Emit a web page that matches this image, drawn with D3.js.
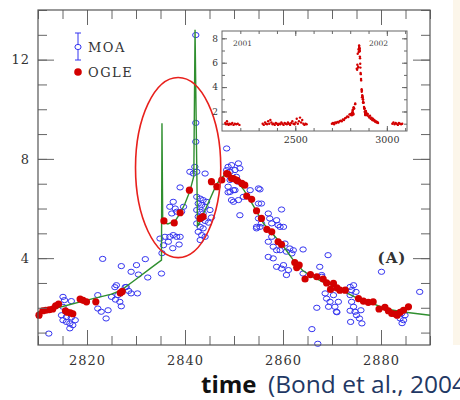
<!DOCTYPE html>
<html>
<head>
<meta charset="utf-8">
<script src="https://cdn.jsdelivr.net/npm/d3@7"></script>
<style>
  body { margin: 0; background: #fff; }
  svg { display: block; }
</style>
</head>
<body>
<div id="chart"></div>
<script>
// OGLE photometry: [day, magnification]
const ogle = [
  [2810.2,1.70],[2811.0,1.88],[2811.6,1.90],[2812.3,1.92],[2813.0,1.95],[2813.6,2.08],[2814.2,2.15],
  [2815.6,1.88],[2816.0,1.82],[2816.6,1.80],[2817.1,1.76],[2818.6,2.35],[2819.2,2.30],[2819.9,2.24],
  [2821.8,2.24],[2826.8,2.60],[2827.2,2.66],
  [2835.7,5.50],[2837.8,5.42],[2839.0,5.83],[2840.9,6.74],[2843.1,5.60],[2843.7,5.67],
  [2845.4,7.08],[2846.5,6.88],[2847.5,7.15],[2848.5,7.41],[2848.8,7.38],[2849.5,7.21],[2849.9,7.21],
  [2850.5,7.15],[2850.7,7.12],[2851.6,7.01],[2852.2,6.94],[2852.6,6.50],[2853.6,6.37],[2854.6,5.91],
  [2855.6,5.60],[2856.7,5.16],[2857.7,5.06],[2859.0,4.66],[2859.7,4.55],[2862.4,3.82],[2862.8,3.62],
  [2863.3,3.72],[2864.5,3.16],[2865.6,3.34],[2866.9,3.25],[2868.2,3.16],[2868.9,3.00],[2869.7,2.74],
  [2870.3,2.98],[2871.0,2.80],[2871.6,2.71],[2872.7,2.71],[2875.4,2.37],[2876.4,2.27],[2877.4,2.22],
  [2878.4,2.24],[2879.6,1.95],[2880.8,2.02],[2881.5,1.88],[2882.2,1.77],[2882.9,1.75],[2883.3,1.70],
  [2883.9,1.82],[2884.6,1.90],[2885.6,2.04]
];

// MOA photometry: [day, magnification]
const moa = [
  [2812.2,0.96],
  [2815.1,2.44],[2815.4,2.31],[2815.1,2.04],[2814.8,1.70],[2815.1,1.50],[2815.8,1.43],[2816.5,1.37],
  [2816.8,1.61],[2816.5,1.17],[2817.1,1.30],[2815.8,1.63],[2816.8,2.27],[2817.6,1.50],
  [2822.2,2.51],[2822.2,1.97],[2822.9,1.84],[2824.3,1.90],[2823.9,1.57],[2823.2,3.97],
  [2825.0,2.44],[2825.8,2.33],[2826.3,2.51],[2826.7,2.24],[2827.0,2.06],[2826.0,2.91],[2828.0,2.84],
  [2828.5,2.68],[2829.0,2.58],[2830.3,2.58],[2827.0,3.68],[2829.0,3.45],[2830.1,3.72],[2830.5,3.34],
  [2831.9,3.96],[2832.4,3.22],[2835.2,3.38],[2835.3,4.20],[2825.7,2.83],[2827.8,2.83],
  [2842.2,12.99],[2842.2,9.45],[2842.2,8.69],[2842.0,7.68],[2841.0,7.48],[2841.7,7.41],[2842.4,7.48],
  [2844.1,7.41],[2839.0,6.85],
  [2837.6,6.27],[2836.9,6.07],[2838.0,6.00],[2837.3,5.80],[2838.3,5.87],[2839.3,5.87],[2839.7,6.07],
  [2834.9,4.79],[2835.9,4.86],[2836.9,4.86],[2837.6,4.93],[2838.3,4.86],[2839.0,4.86],[2836.6,4.66],
  [2835.6,4.52],[2837.5,4.40],[2838.8,4.55],
  [2842.4,6.47],[2843.1,6.40],[2843.7,6.34],[2842.7,6.20],[2843.4,6.14],[2844.1,6.07],[2842.4,5.94],
  [2843.1,5.87],[2843.7,5.80],[2842.7,5.67],[2843.4,5.60],[2844.1,5.50],[2842.4,5.40],[2843.1,5.26],
  [2843.7,5.20],[2842.7,5.06],[2843.4,4.93],[2844.4,6.27],[2845.1,5.94],[2845.4,5.64],[2844.8,5.43],
  [2843.1,4.73],[2844.1,4.86],
  [2848.5,8.42],[2848.8,7.68],[2849.5,7.75],[2848.5,7.55],[2849.2,7.48],[2850.2,7.55],[2850.9,7.82],
  [2851.2,7.62],[2850.5,7.28],[2848.8,6.88],[2849.2,6.67],[2850.2,6.74],[2849.5,6.34],[2849.9,6.27],
  [2850.9,6.34],[2851.9,6.47],[2851.2,5.73],[2853.3,6.74],[2855.0,6.81],[2854.6,5.26],[2849.2,7.15],
  [2850.9,7.08],[2849.9,6.74],[2848.8,6.65],
  [2855.3,6.77],[2855.0,6.20],[2855.6,6.20],[2855.0,5.60],[2855.3,5.26],[2854.6,5.20],[2855.6,5.40],
  [2859.7,5.96],[2857.0,5.80],[2857.3,5.60],[2857.7,5.40],[2858.7,5.53],[2859.0,5.33],[2859.4,5.26],
  [2860.1,5.26],[2857.0,4.66],[2857.7,4.86],[2858.0,4.46],[2858.7,4.32],[2859.4,4.32],[2860.4,4.59],
  [2860.7,4.26],[2861.4,4.39],[2861.8,4.19],[2862.1,4.32],[2857.0,4.05],[2858.0,3.99],[2858.7,3.65],
  [2859.7,3.58],[2860.7,3.32],[2860.1,3.72],[2861.1,3.52],
  [2864.1,4.35],[2869.2,4.12],[2867.5,3.65],[2864.1,3.38],[2867.9,3.32],[2867.9,3.25],
  [2868.6,2.58],[2868.9,2.37],[2869.6,2.24],[2869.3,2.04],[2870.3,2.51],[2870.6,2.04],[2870.9,1.84],
  [2871.3,2.24],
  [2873.7,2.84],[2874.4,2.91],[2874.0,2.71],[2874.9,2.64],[2873.7,2.51],[2874.0,2.24],[2874.4,2.04],
  [2873.7,1.88],[2874.7,1.84],[2873.8,1.43],[2875.0,1.70],[2875.6,1.57],[2875.9,1.90],[2876.1,1.37],
  [2880.1,3.45],[2887.9,2.64],[2883.9,1.57],[2884.6,1.50],[2884.9,1.70],[2884.2,1.77],[2884.3,1.38],
  [2865.9,1.14],[2867.1,0.55],[2866.9,2.00],[2871.0,1.82]
];

// binary-lens model curve: [day, magnification]
const model = [
  [2810,1.84],[2815,2.05],[2820,2.31],[2825,2.55],[2827,2.71],[2830,3.15],[2833,3.60],[2835.2,3.92],
  [2835.3,9.44],[2835.45,5.45],[2836.5,5.38],[2838,5.50],[2839,5.80],[2840,6.20],[2841,6.70],
  [2841.8,7.30],[2842.05,13.2],[2842.55,5.30],[2843,5.45],[2844.4,6.07],[2846.5,7.00],[2848.5,7.45],
  [2850,7.25],[2852,6.75],[2854,6.10],[2856,5.40],[2858,4.95],[2860,4.50],[2862,3.95],[2864,3.50],
  [2866,3.25],[2868,3.05],[2870,2.90],[2872,2.70],[2875,2.40],[2878,2.20],[2881,1.95],[2885,1.82],
  [2890,1.70]
];

// OGLE seasons shown in the inset
const insetSeasonA = [
  [2118,1.05],[2122,0.95],[2127,1.20],[2131,1.00],[2136,0.90],[2142,1.00],[2149,0.95],[2156,1.05],
  [2163,0.90],[2170,1.00],[2178,0.95],[2186,1.00],[2195,0.90]
];
const insetSeasonB = [
  [2322,1.00],[2328,0.90],[2335,1.10],[2340,1.00],[2346,0.95],[2352,1.20],[2358,1.00],[2364,1.30],
  [2370,1.10],[2376,0.95],[2382,1.00],[2388,0.90],[2394,1.05],[2400,1.00],[2406,0.90],[2412,1.00],
  [2418,0.95],[2424,1.10],[2430,1.00],[2436,0.90],[2442,1.05],[2448,1.00],[2454,0.95],[2460,1.10],
  [2466,1.00],[2472,0.90],[2478,1.05],[2484,1.20],[2490,1.00],[2496,0.95],[2502,1.10],[2508,1.40],
  [2514,1.00],[2520,1.20],[2526,1.50],[2532,1.10],[2538,1.30],[2544,1.00],[2550,0.90],[2556,1.00],
  [2562,0.95]
];
const insetSeasonC = [
  [2700,1.00],[2706,1.05],[2712,0.95],[2718,1.10],[2724,1.05],[2730,1.15],[2736,1.10],[2742,1.20],
  [2748,1.25],[2754,1.20],[2760,1.35],[2766,1.30],[2772,1.45],[2778,1.50],[2784,1.60],[2790,1.55],
  [2796,1.75],[2802,1.80],[2806,1.70],
  [2888,1.90],[2892,1.70],[2896,1.80],[2900,1.60],[2904,1.50],[2908,1.65],[2912,1.40],[2916,1.50],
  [2920,1.30],[2924,1.40],[2928,1.25],[2932,1.30],[2936,1.15],[2940,1.20],[2944,1.10],[2948,1.15],
  [2952,1.05]
];
const insetSeasonD = [
  [3030,1.00],[3036,1.10],[3042,0.95],[3048,1.05],[3054,1.00],[3060,0.90],[3066,1.05],[3072,1.00],
  [3078,0.95],[3084,1.00]
];

const xTickLabels = [2820, 2840, 2860, 2880];
const yTickLabels = [4, 8, 12];
const insetXTickLabels = [2500, 3000];
const insetYTickLabels = [2, 4, 6, 8];
const seriesNames = ["MOA", "OGLE"];
const insetYears = ["2001", "2002"];

const width = 460;
const height = 400;
const serif = "'DejaVu Serif', serif";

const svg = d3.select("#chart").append("svg")
    .attr("width", width)
    .attr("height", height);

// pale strip of the slide at the right edge
svg.append("rect")
    .attr("x", 453).attr("y", 0)
    .attr("width", 7).attr("height", 345)
    .attr("fill", "#fcf6ea");

const x = d3.scaleLinear().domain([2810, 2890]).range([38, 430]);
const y = d3.scaleLinear().domain([0.5, 14]).range([345, 10]);

// draws inward ticks on one side: minor ones first, then the long labelled ones
function sideAxis(g, axisMaker, scale, minor, major, minorLen, majorLen, pad, fontSize, spacing) {
    g.append("g")
        .call(axisMaker(scale).tickValues(minor).tickSize(-minorLen).tickFormat(""))
        .call(a => a.select(".domain").remove());
    const labelled = g.append("g")
        .call(axisMaker(scale).tickValues(major).tickSize(-majorLen).tickPadding(pad)
            .tickFormat(fontSize ? d3.format("d") : ""))
        .call(a => a.select(".domain").remove());
    labelled.attr("font-family", serif).attr("font-size", fontSize || 10);
    labelled.selectAll("text")
        .attr("fill", "#333")
        .attr("letter-spacing", spacing || 0);
    g.selectAll("line").attr("stroke", "#666").attr("stroke-width", 1);
}

function drawMainAxes() {
    const minorX = d3.range(2810, 2891, 5);
    const minorY = d3.range(1, 14.01, 1);

    sideAxis(svg.append("g").attr("transform", `translate(0,${y.range()[0]})`),
        d3.axisBottom, x, minorX, xTickLabels, 9, 15, 11, 13, 1);
    sideAxis(svg.append("g").attr("transform", `translate(0,${y.range()[1]})`),
        d3.axisTop, x, minorX, xTickLabels, 9, 15, 0, 0);
    sideAxis(svg.append("g").attr("transform", `translate(${x.range()[0]},0)`),
        d3.axisLeft, y, minorY, yTickLabels, 9, 16, 8, 13, 1);
    sideAxis(svg.append("g").attr("transform", `translate(${x.range()[1]},0)`),
        d3.axisRight, y, minorY, yTickLabels, 9, 17, 0, 0);

    svg.append("rect")
        .attr("x", x.range()[0])
        .attr("y", y.range()[1])
        .attr("width", x.range()[1] - x.range()[0])
        .attr("height", y.range()[0] - y.range()[1])
        .attr("fill", "none")
        .attr("stroke", "#555")
        .attr("stroke-width", 1.2);
}

function drawData() {
    const line = d3.line().x(d => x(d[0])).y(d => y(d[1]));

    svg.append("g").selectAll("ellipse").data(moa).enter().append("ellipse")
        .attr("cx", d => x(d[0]))
        .attr("cy", d => y(d[1]))
        .attr("rx", 3.2)
        .attr("ry", 2.6)
        .attr("fill", "none")
        .attr("stroke", "#3535f0")
        .attr("stroke-width", 1);

    svg.append("path")
        .datum(model)
        .attr("d", line)
        .attr("fill", "none")
        .attr("stroke", "#2f8f2f")
        .attr("stroke-width", 1.4);

    svg.append("g").selectAll("circle").data(ogle).enter().append("circle")
        .attr("cx", d => x(d[0]))
        .attr("cy", d => y(d[1]))
        .attr("r", 3.6)
        .attr("fill", "#d30000");
}

function drawLegend() {
    const lx = 78;
    const g = svg.append("g");
    // MOA: open circle with error bar
    g.append("line").attr("x1", lx).attr("x2", lx).attr("y1", 33).attr("y2", 44.5)
        .attr("stroke", "#3535f0");
    g.append("line").attr("x1", lx).attr("x2", lx).attr("y1", 49.5).attr("y2", 60)
        .attr("stroke", "#3535f0");
    [33, 60].forEach(cy => g.append("line")
        .attr("x1", lx - 3).attr("x2", lx + 3).attr("y1", cy).attr("y2", cy)
        .attr("stroke", "#3535f0"));
    g.append("ellipse").attr("cx", lx).attr("cy", 47).attr("rx", 3.1).attr("ry", 2.6)
        .attr("fill", "none").attr("stroke", "#3535f0");
    // OGLE: filled red dot
    g.append("circle").attr("cx", lx).attr("cy", 72).attr("r", 3.8).attr("fill", "#d30000");

    g.selectAll("text").data(seriesNames).enter().append("text")
        .attr("x", 88)
        .attr("y", (d, i) => 52 + i * 25)
        .attr("font-family", serif)
        .attr("font-size", 13)
        .attr("letter-spacing", 1.5)
        .attr("fill", "#333")
        .text(d => d);

    svg.append("text")
        .attr("x", 392).attr("y", 263)
        .attr("text-anchor", "middle")
        .attr("font-family", serif)
        .attr("font-weight", "bold")
        .attr("font-size", 15)
        .attr("letter-spacing", 1)
        .attr("fill", "#333")
        .text("(A)");
}

// red ring drawn around the two caustic crossings (in data units)
function drawRing() {
    const ring = { t: 2838.6, m: 7.65, dt: 8.7, dm: 3.63 };
    svg.append("ellipse")
        .attr("cx", x(ring.t))
        .attr("cy", y(ring.m))
        .attr("rx", x(ring.t + ring.dt) - x(ring.t))
        .attr("ry", y(ring.m - ring.dm) - y(ring.m))
        .attr("fill", "none")
        .attr("stroke", "#e8201c")
        .attr("stroke-width", 1.6);
}

function drawInset() {
    const ix = d3.scaleLinear().domain([2100, 3110]).range([222, 407]);
    const iy = d3.scaleLinear().domain([0.4, 8.6]).range([131, 31]);

    svg.append("rect")
        .attr("x", ix.range()[0]).attr("y", iy.range()[1])
        .attr("width", ix.range()[1] - ix.range()[0])
        .attr("height", iy.range()[0] - iy.range()[1])
        .attr("fill", "#fff");

    const minorX = d3.range(2200, 3101, 100);
    const minorY = d3.range(1, 8.01, 1);
    sideAxis(svg.append("g").attr("transform", `translate(0,${iy.range()[0]})`),
        d3.axisBottom, ix, minorX, insetXTickLabels, 3, 5, 5, 9.5, 0);
    sideAxis(svg.append("g").attr("transform", `translate(0,${iy.range()[1]})`),
        d3.axisTop, ix, minorX, insetXTickLabels, 3, 5, 0, 0);
    sideAxis(svg.append("g").attr("transform", `translate(${ix.range()[0]},0)`),
        d3.axisLeft, iy, minorY, insetYTickLabels, 3, 5, 4, 9, 0);
    sideAxis(svg.append("g").attr("transform", `translate(${ix.range()[1]},0)`),
        d3.axisRight, iy, minorY, insetYTickLabels, 3, 5, 0, 0);

    svg.append("rect")
        .attr("x", ix.range()[0]).attr("y", iy.range()[1])
        .attr("width", ix.range()[1] - ix.range()[0])
        .attr("height", iy.range()[0] - iy.range()[1])
        .attr("fill", "none")
        .attr("stroke", "#666")
        .attr("stroke-width", 1);

    const pts = insetSeasonA.concat(insetSeasonB, insetSeasonC, insetSeasonD, ogle);
    svg.append("g").selectAll("circle").data(pts).enter().append("circle")
        .attr("cx", d => ix(d[0]))
        .attr("cy", d => iy(d[1]))
        .attr("r", 1.2)
        .attr("fill", "#d30000");

    svg.append("g").selectAll("text").data(insetYears).enter().append("text")
        .attr("x", (d, i) => i === 0 ? 233 : 369)
        .attr("y", 46)
        .attr("font-family", serif)
        .attr("font-size", 7.5)
        .attr("fill", "#444")
        .text(d => d);
}

// slide caption under the chart; the citation runs off the right edge as in the slide
function drawCaption() {
    svg.append("text")
        .attr("x", 201).attr("y", 393)
        .attr("font-family", "'Open Sans', sans-serif")
        .attr("font-weight", "bold")
        .attr("font-size", 24)
        .attr("fill", "#111")
        .text("time");
    svg.append("text")
        .attr("x", 268).attr("y", 393)
        .attr("font-family", "'Open Sans', sans-serif")
        .attr("font-size", 24.5)
        .attr("fill", "#1f3864")
        .text("(Bond et al., 2004)");
}

drawData();
drawRing();
drawInset();
drawMainAxes();
drawLegend();
drawCaption();
</script>
</body>
</html>
